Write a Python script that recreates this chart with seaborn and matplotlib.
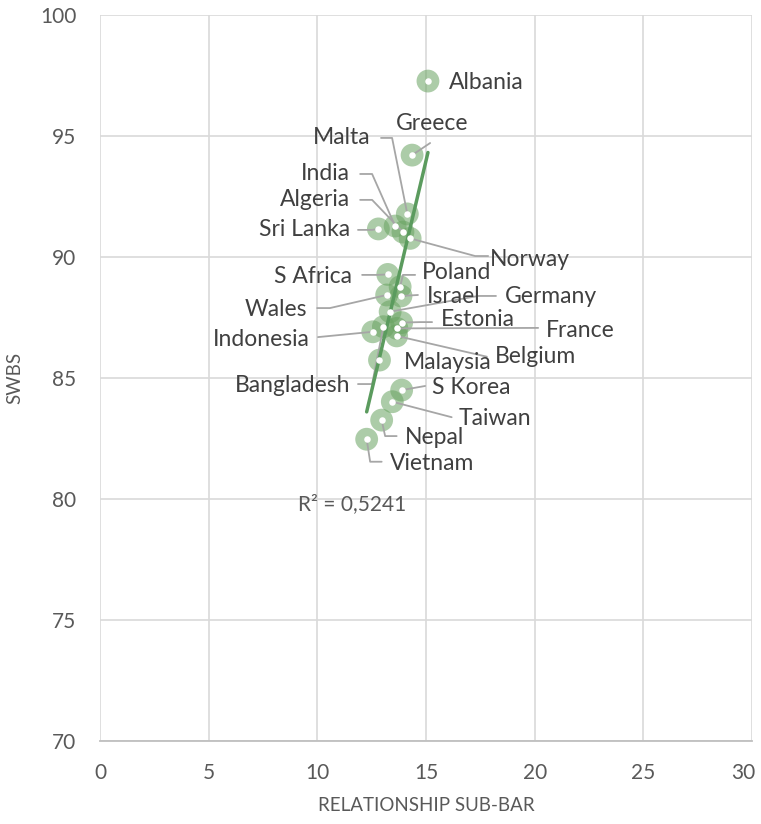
import matplotlib
matplotlib.use("Agg")
import matplotlib.pyplot as plt
import matplotlib.transforms as mtrans
import seaborn as sns
import pandas as pd
import numpy as np

# values
countries = ["Albania", "Greece", "Malta", "India", "Algeria", "Sri Lanka", "Norway",
             "S Africa", "Poland", "Wales", "Israel", "Germany", "Estonia", "France",
             "Indonesia", "Belgium", "Malaysia", "Bangladesh", "S Korea", "Taiwan",
             "Nepal", "Vietnam"]
relationship = [15.09, 14.36, 14.14, 13.58, 13.94, 12.81, 14.27,
                13.24, 13.81, 13.19, 13.85, 13.35, 13.88, 13.66,
                12.55, 13.65, 12.86, 13.04, 13.88, 13.45,
                12.96, 12.27]
swbs = [97.27, 94.21, 91.78, 91.28, 91.03, 91.16, 90.77,
        89.28, 88.77, 88.43, 88.39, 87.74, 87.29, 87.05,
        86.91, 86.74, 85.74, 87.12, 84.50, 84.02,
        83.26, 82.47]
x_ticks = [0, 5, 10, 15, 20, 25, 30]
y_ticks = [70, 75, 80, 85, 90, 95, 100]
r2_text = "R² = 0,5241"

# label placement: text x, text y, alignment, leader line bend points
label_pos = {
    "Albania": (16.05, 97.23, "left", []),
    "Greece": (15.28, 95.5, "center", [(15.19, 94.71)]),
    "Malta": (12.43, 94.92, "right", [(12.93, 94.92), (13.44, 94.92)]),
    "India": (11.5, 93.43, "right", [(11.97, 93.43), (12.52, 93.43)]),
    "Algeria": (11.5, 92.36, "right", [(11.97, 92.36), (12.52, 92.36)]),
    "Sri Lanka": (11.5, 91.12, "right", [(11.87, 91.12), (12.52, 91.12)]),
    "Norway": (17.95, 89.88, "left", [(17.86, 90.04), (17.26, 90.04)]),
    "S Africa": (11.6, 89.21, "right", [(12.06, 89.26), (12.75, 89.26)]),
    "Poland": (14.82, 89.38, "left", [(14.5, 89.26), (13.94, 89.26)]),
    "Wales": (9.53, 87.85, "right", [(9.99, 87.89), (10.58, 87.89)]),
    "Israel": (15.05, 88.35, "left", [(14.63, 88.43)]),
    "Germany": (18.64, 88.35, "left", [(18.22, 88.39), (17.4, 88.39)]),
    "Estonia": (15.69, 87.4, "left", [(15.28, 87.31), (14.73, 87.31)]),
    "France": (20.5, 86.98, "left", [(20.16, 87.07)]),
    "Indonesia": (9.66, 86.61, "right", [(10.03, 86.69)]),
    "Belgium": (18.18, 85.87, "left", [(17.8, 85.88)]),
    "Malaysia": (13.99, 85.62, "left", None),
    "Bangladesh": (11.5, 84.67, "right", [(11.87, 84.75), (12.52, 84.75)]),
    "S Korea": (15.28, 84.59, "left", [(14.96, 84.67)]),
    "Taiwan": (16.48, 83.31, "left", [(16.18, 83.38)]),
    "Nepal": (14.04, 82.56, "left", [(13.65, 82.6), (13.12, 82.6)]),
    "Vietnam": (13.35, 81.45, "left", [(12.96, 81.54), (12.43, 81.54)]),
}

df = pd.DataFrame({"country": countries, "rel": relationship, "swbs": swbs})

sns.set_style("white")
plt.rcParams["font.family"] = ["Lato", "DejaVu Sans"]
text_col = "#595959"

fig = plt.figure(figsize=(7.61, 8.24), dpi=100)
ax = fig.add_axes([100 / 761, 83 / 824, 652 / 761, 726 / 824])

# leader lines
for name, (tx, ty, ha, path) in label_pos.items():
    if not path:
        continue
    row = df[df.country == name].iloc[0]
    xs = [p[0] for p in path] + [row.rel]
    ys = [p[1] for p in path] + [row.swbs]
    ax.plot(xs, ys, color="#a6a6a6", lw=1.3, zorder=4)

sns.scatterplot(data=df, x="rel", y="swbs", ax=ax, s=270, color="#69a361",
                alpha=0.55, edgecolor="none", zorder=3, legend=False)
ax.scatter(df.rel, df.swbs, s=22, color="white", zorder=5, linewidths=0)

# linear trendline over the data range
slope, icpt = np.polyfit(df.rel, df.swbs, 1)
xl = np.array([df.rel.min(), df.rel.max()])
ax.plot(xl, slope * xl + icpt, color="#5b9b5e", lw=2.5, zorder=4)

for name, (tx, ty, ha, path) in label_pos.items():
    ax.text(tx, ty, name, ha=ha, va="center", fontsize=16.5, color="#404040", zorder=6)

ax.text(11.6, 79.8, r2_text, ha="center", va="center", fontsize=15, color=text_col)

ax.set_xlim(0, 30)
ax.set_ylim(70, 100)
ax.set_xticks(x_ticks)
ax.set_yticks(y_ticks)
ax.grid(True, color="#d9d9d9", lw=1.2)
ax.set_axisbelow(True)
for s in ["top", "right", "left"]:
    ax.spines[s].set_visible(False)
ax.spines["bottom"].set_color("#bfbfbf")
ax.spines["bottom"].set_linewidth(1.3)
ax.tick_params(axis="both", length=0, labelsize=15, colors=text_col)
ax.tick_params(axis="y", pad=17)
ax.tick_params(axis="x", pad=16)
ax.set_xlabel("RELATIONSHIP SUB-BAR", fontsize=13.5, color=text_col, labelpad=10)
ax.set_ylabel("SWBS", fontsize=13.5, color=text_col, labelpad=12)

# keep the last x tick label inside the canvas
fig.canvas.draw()
last = ax.get_xticklabels()[-1]
last.set_transform(last.get_transform() + mtrans.ScaledTranslation(-6 / 72, 0, fig.dpi_scale_trans))

fig.savefig("out.png", dpi=100)
